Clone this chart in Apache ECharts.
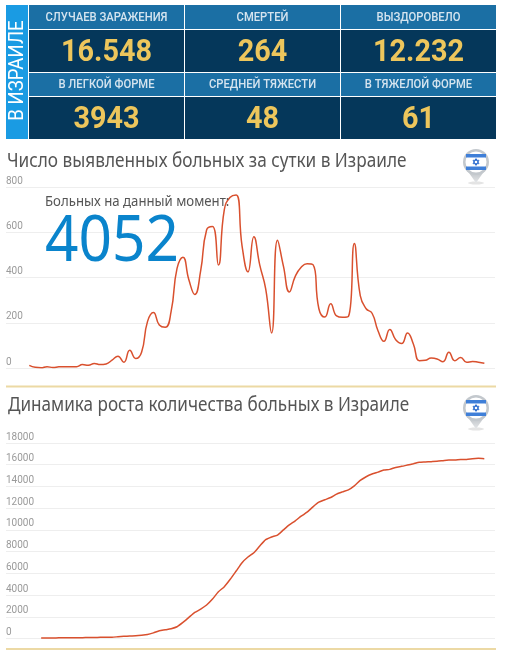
<!DOCTYPE html>
<html><head><meta charset="utf-8">
<style>html,body{margin:0;padding:0;background:#fff}#c{width:506px;height:653px}</style>
<script src="https://cdn.jsdelivr.net/npm/echarts@6/dist/echarts.min.js"></script>
</head><body><div id="c"></div>
<script>
const sideLabel = 'В ИЗРАИЛЕ';
const statLabelsTop = ['СЛУЧАЕВ ЗАРАЖЕНИЯ', 'СМЕРТЕЙ', 'ВЫЗДОРОВЕЛО'];
const statValuesTop = ['16.548', '264', '12.232'];
const statLabelsBottom = ['В ЛЕГКОЙ ФОРМЕ', 'СРЕДНЕЙ ТЯЖЕСТИ', 'В ТЯЖЕЛОЙ ФОРМЕ'];
const statValuesBottom = ['3943', '48', '61'];
const titleDaily = 'Число выявленных больных за сутки в Израиле';
const titleTotal = 'Динамика роста количества больных в Израиле';
const currentLabel = 'Больных на данный момент:';
const currentValue = '4052';
const dailyCases = [12,3,1,6,2,5,6,6,6,15,12,20,15,18,35,52,25,78,42,70,205,245,190,180,250,440,490,390,325,430,
  610,625,455,700,755,765,540,425,580,455,350,155,565,450,336,405,445,461,457,262,225,284,230,224,228,550,
  320,262,242,165,118,170,125,108,155,105,32,34,44,40,28,70,32,46,25,29,25,21];
const totalCases = [50,50,55,60,65,70,75,80,90,100,105,110,120,160,200,230,250,300,370,520,710,800,900,1080,1480,
  1940,2400,2700,3080,3630,4300,4770,5450,6210,6980,7500,7900,8520,9100,9350,9520,10000,10460,10830,11260,11630,
  12120,12550,12770,12980,13290,13500,13690,14060,14550,14890,15140,15320,15510,15570,15750,15850,15970,16090,
  16220,16250,16280,16310,16370,16430,16430,16490,16490,16555,16585,16548];

const C = {head:'#1b6fa4', val:'#05375a', side:'#1a9be3', gold:'#edc65c', headText:'#d5e4ef', line:'#d9502e',
  grid:'#eeeeee', tick:'#9a9a9a', title:'#555555', rule:'#ecd9a4', big:'#0a84cc'};
const sans = 'Roboto, sans-serif';
const noto = '"Noto Sans", sans-serif';

function txt(x,y,text,font,fill,scaleX){
  return {type:'text',x,y,scaleX:scaleX||1,silent:true,z:20,style:{text,font,fill,align:'center',verticalAlign:'middle'}};
}
function ltxt(x,y,text,font,fill,scaleX){
  return {type:'text',x,y,scaleX:scaleX||1,silent:true,z:20,style:{text,font,fill,align:'left',verticalAlign:'middle'}};
}
function rect(x,y,w,h,fill){ return {type:'rect',silent:true,shape:{x,y,width:w,height:h},style:{fill}}; }

const colX=[29,185,341], colW=155;
const g=[];
g.push(rect(6,5,22,134,C.side));
g.push({type:'text',x:18,y:70.5,rotation:Math.PI/2,scaleX:0.93,silent:true,style:{text:sideLabel,font:'400 20px '+sans,fill:'#fff',align:'center',verticalAlign:'middle'}});
[[5,24,30,42,statLabelsTop,statValuesTop],[73,23,97,42,statLabelsBottom,statValuesBottom]].forEach(r=>{
  colX.forEach((x,i)=>{
    g.push(rect(x,r[0],colW,r[1],C.head));
    g.push(rect(x,r[2],colW,r[3],C.val));
    g.push(txt(x+colW/2,r[0]+r[1]/2+0.5,r[4][i],'500 13px '+sans,C.headText,0.865));
    g.push(txt(x+colW/2,r[2]+r[3]/2+1.5,r[5][i],'700 32px '+sans,C.gold,0.9));
  });
});
g.push(rect(6,385.5,490,2,C.rule));
g.push(rect(6,648,490,2,C.rule));
g.push(ltxt(7,161,titleDaily,'400 20px '+noto,C.title,0.86));
g.push(ltxt(8,405,titleTotal,'400 20px '+noto,C.title,0.855));
g.push(ltxt(45,202,currentLabel,'400 14.5px '+noto,C.title,0.91));
g.push(ltxt(45,243,currentValue,'400 63px '+noto,C.big,0.93));

function star(){
  const a=[],b=[];
  for(let i=0;i<3;i++){const t=-Math.PI/2+i*2*Math.PI/3;a.push([3.4*Math.cos(t),3.4*Math.sin(t)]);
    const u=Math.PI/2+i*2*Math.PI/3;b.push([3.4*Math.cos(u),3.4*Math.sin(u)]);}
  return [a,b];
}
function pin(cx,cy){
  const [s1,s2]=star();
  return {type:'group',x:cx,y:cy,silent:true,children:[
    {type:'ellipse',shape:{cx:0,cy:21,rx:8,ry:1.5},style:{fill:'#e4e4e4'}},
    {type:'polygon',shape:{points:[[-9,8],[9,8],[0,21]]},style:{fill:new echarts.graphic.LinearGradient(0,0,0,1,[{offset:0,color:'#b8bdc2'},{offset:1,color:'#e6e8ea'}])}},
    {type:'circle',shape:{cx:0,cy:0,r:13},style:{fill:'#c3c8cd'}},
    {type:'circle',shape:{cx:0,cy:0,r:10.5},style:{fill:'#ffffff'}},
    {type:'rect',shape:{x:-10,y:-8,width:20,height:3.5},style:{fill:'#3f7fd8'}},
    {type:'rect',shape:{x:-10,y:4.5,width:20,height:3.5},style:{fill:'#3f7fd8'}},
    {type:'polygon',shape:{points:s1},style:{fill:'none',stroke:'#2f6fd0',lineWidth:1}},
    {type:'polygon',shape:{points:s2},style:{fill:'none',stroke:'#2f6fd0',lineWidth:1}}
  ]};
}
g.push(pin(476,162)); g.push(pin(476,408));

const yAxisBase=(gridIndex,max,interval)=>({type:'value',gridIndex,min:0,max,interval,
  axisLine:{show:false},axisTick:{show:false},
  axisLabel:{inside:true,margin:0,verticalAlign:'bottom',color:C.tick,fontSize:10,fontFamily:sans,padding:[0,0,1,0],formatter:v=>String(v)},
  splitLine:{lineStyle:{color:C.grid,width:1}}});
const xAxisBase=(gridIndex,min,max)=>({type:'value',gridIndex,min,max,show:false,splitLine:{show:false}});
const serie=(i,data,smooth)=>({type:'line',xAxisIndex:i,yAxisIndex:i,data:data.map((v,k)=>[k,v]),smooth,symbol:'none',
  lineStyle:{color:C.line,width:1.5},silent:true,animation:false,z:5});

const chart=echarts.init(document.getElementById('c'),null,{renderer:'canvas',width:506,height:653});
chart.setOption({
  animation:false,backgroundColor:'#fff',
  grid:[
    {left:6,top:187,width:489,height:181,containLabel:false},
    {left:6,top:443,width:489,height:195.5,containLabel:false}
  ],
  xAxis:[xAxisBase(0,-3.94,78.8),xAxisBase(1,-5.95,76.81)],
  yAxis:[yAxisBase(0,800,200),yAxisBase(1,18000,2000)],
  series:[serie(0,dailyCases,0.5),serie(1,totalCases,0.2)],
  graphic:{elements:g}
});
</script></body></html>
